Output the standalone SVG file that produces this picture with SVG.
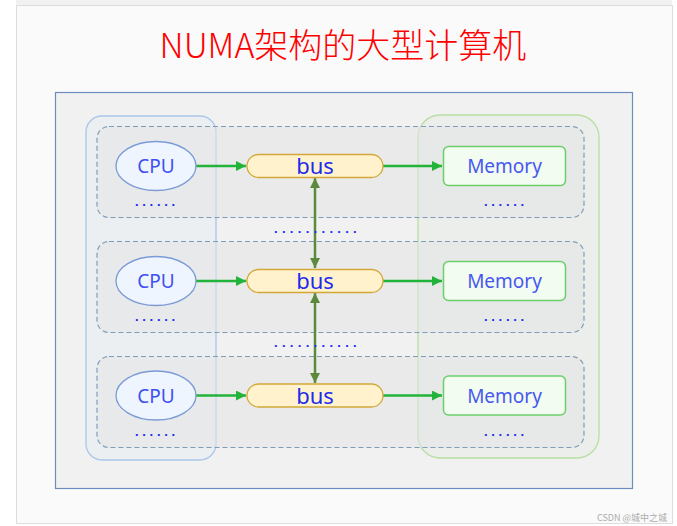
<svg xmlns="http://www.w3.org/2000/svg" width="677" height="526" viewBox="0 0 677 526">
<defs>
<marker id="ag" viewBox="0 0 10 10" refX="10" refY="5" markerWidth="4" markerHeight="4" orient="auto" markerUnits="strokeWidth">
<path d="M0,0 L10,5 L0,10 z" fill="#22b33a"/>
</marker>
<marker id="ad" viewBox="0 0 10 10" refX="10" refY="5" markerWidth="4" markerHeight="4" orient="auto-start-reverse" markerUnits="strokeWidth">
<path d="M0,0 L10,5 L0,10 z" fill="#5b8a3c"/>
</marker>
</defs>
<style>
.row{fill:#e4e4e6;fill-opacity:0.55;stroke:#7f9db9;stroke-width:1.2;stroke-dasharray:5 3}
.cpu{fill:#eef5ff;stroke:#7b9ad6;stroke-width:1.3}
.bus{fill:#fff2cc;stroke:#d2a83a;stroke-width:1.3}
.mem{fill:#f2fcf0;stroke:#6ccf6c;stroke-width:1.5}
.t{font-family:"Noto Sans","Noto Sans CJK SC",sans-serif;text-anchor:middle}
.tc{font-size:19px;fill:#3f50f2}
.tb{font-size:22px;fill:#1d2cf0}
.tm{font-size:19px;fill:#4858ef}
.dots{font-family:"Liberation Sans",sans-serif;font-weight:bold;font-size:13px;fill:#1a2cf5;letter-spacing:3.7px}
.h{stroke:#22b33a;stroke-width:2.5;fill:none;marker-end:url(#ag)}
.v{stroke:#5b8a3c;stroke-width:2.5;fill:none;marker-start:url(#ad);marker-end:url(#ad)}
</style>
<rect x="0" y="0" width="677" height="526" fill="#ffffff"/>
<rect x="16" y="0" width="656" height="5" fill="#f1f1f1"/>
<rect x="16.5" y="5.5" width="656" height="518" fill="#fafafa" stroke="#dddddd"/>
<text x="343" y="58" font-family="'Noto Sans CJK SC',sans-serif" font-size="34" font-weight="300" fill="#ff0000" text-anchor="middle">NUMA架构的大型计算机</text>

<g id="frame">
<rect x="55.5" y="92.5" width="577" height="396" fill="#f1f1f1" stroke="#6c8ebf" stroke-width="1.2"/>
</g>
<g id="cpu-column">
<rect x="86" y="116" width="130" height="344" rx="16" fill="#dae8fc" fill-opacity="0.18" stroke="#aac6ea" stroke-width="1.3"/>
</g>
<g id="memory-column">
<rect x="418" y="115" width="181" height="343" rx="22" fill="#d5e8d4" fill-opacity="0.2" stroke="#b7dfa2" stroke-width="1.3"/>
</g>

<g id="row1">
<rect class="row" x="97" y="126.5" width="487" height="91" rx="12"/>
</g>
<g id="row2">
<rect class="row" x="97" y="241.5" width="487" height="91" rx="12"/>
</g>
<g id="row3">
<rect class="row" x="97" y="356.5" width="487" height="91" rx="12"/>
</g>

<g id="connectors">
<line class="h" x1="196" y1="166" x2="246" y2="166"/>
<line class="h" x1="383" y1="166" x2="442" y2="166"/>
<line class="h" x1="196" y1="281" x2="246" y2="281"/>
<line class="h" x1="383" y1="281" x2="442" y2="281"/>
<line class="h" x1="196" y1="395.5" x2="246" y2="395.5"/>
<line class="h" x1="383" y1="395.5" x2="442" y2="395.5"/>
<line class="v" x1="315" y1="178" x2="315" y2="268"/>
<line class="v" x1="315" y1="293" x2="315" y2="383"/>
</g>

<g id="cpu1"><ellipse class="cpu" cx="156" cy="166" rx="40" ry="24.5"/><text class="t tc" x="156" y="173">CPU</text></g>
<g id="cpu2"><ellipse class="cpu" cx="156" cy="281" rx="40" ry="24.5"/><text class="t tc" x="156" y="288">CPU</text></g>
<g id="cpu3"><ellipse class="cpu" cx="156" cy="395.5" rx="40" ry="24.5"/><text class="t tc" x="156" y="402.5">CPU</text></g>

<g id="bus1"><rect class="bus" x="247" y="154.5" width="136" height="23" rx="11.5"/><text class="t tb" x="315" y="174">bus</text></g>
<g id="bus2"><rect class="bus" x="247" y="269.5" width="136" height="23" rx="11.5"/><text class="t tb" x="315" y="289">bus</text></g>
<g id="bus3"><rect class="bus" x="247" y="384" width="136" height="23" rx="11.5"/><text class="t tb" x="315" y="403.5">bus</text></g>

<g id="mem1"><rect class="mem" x="443.5" y="146.5" width="122" height="39" rx="5"/><text class="t tm" x="504.5" y="173">Memory</text></g>
<g id="mem2"><rect class="mem" x="443.5" y="261.5" width="122" height="39" rx="5"/><text class="t tm" x="504.5" y="288">Memory</text></g>
<g id="mem3"><rect class="mem" x="443.5" y="376" width="122" height="39" rx="5"/><text class="t tm" x="504.5" y="402.5">Memory</text></g>

<g id="dots">
<text class="dots" x="135" y="206">......</text>
<text class="dots" x="484" y="206">......</text>
<text class="dots" x="135" y="321">......</text>
<text class="dots" x="484" y="321">......</text>
<text class="dots" x="135" y="435.5">......</text>
<text class="dots" x="484" y="435.5">......</text>
<text class="dots" x="274" y="233" style="letter-spacing:4.3px">...........</text>
<text class="dots" x="274" y="347" style="letter-spacing:4.3px">...........</text>
</g>

<text x="667" y="521" font-family="'Noto Sans CJK SC',sans-serif" font-size="9" fill="#aaaaaa" text-anchor="end">CSDN @城中之城</text>
</svg>
